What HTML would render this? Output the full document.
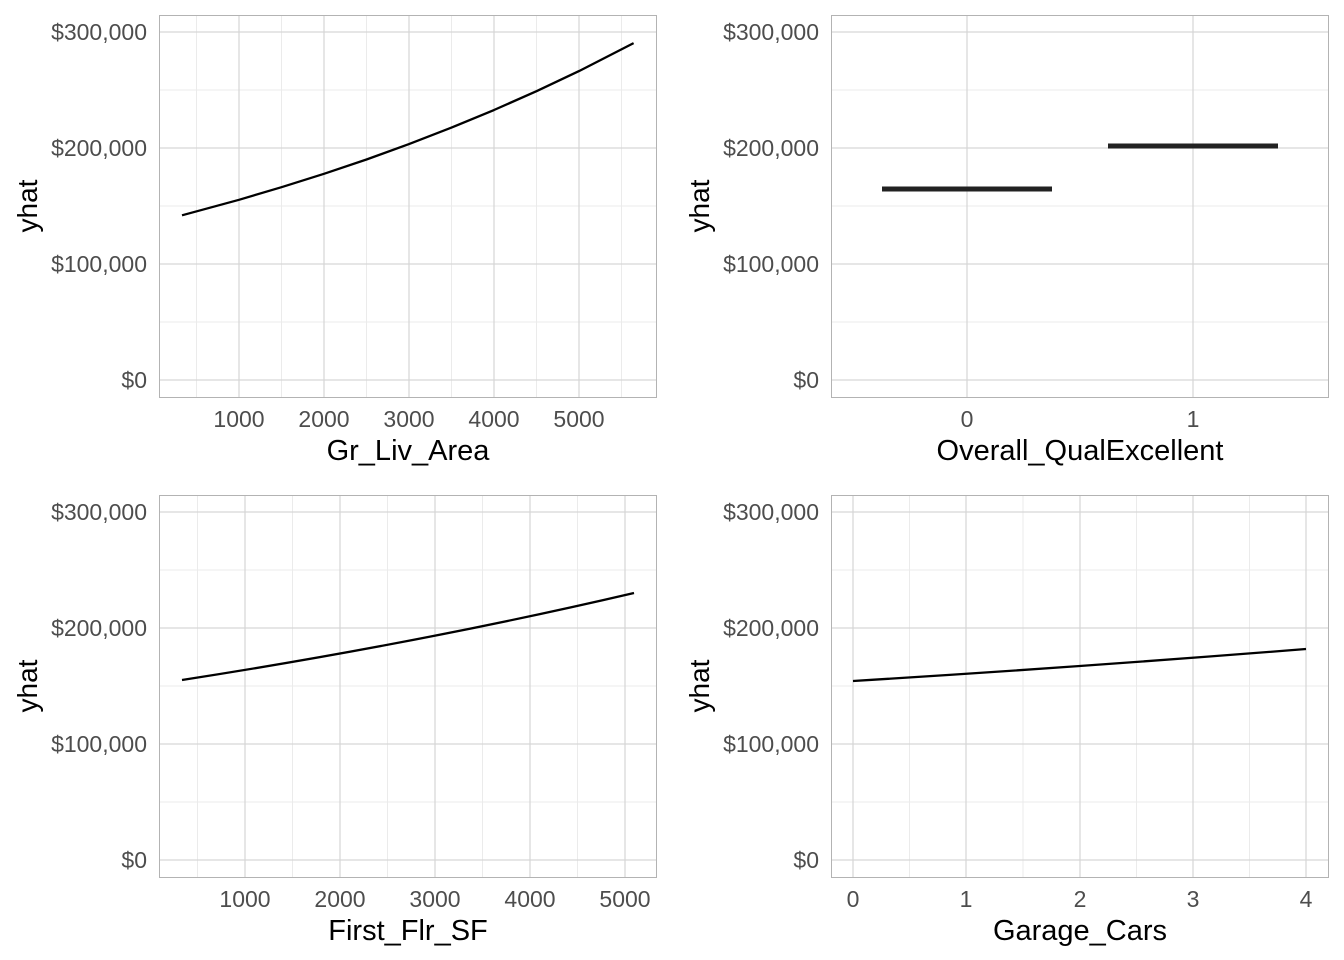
<!DOCTYPE html>
<html><head><meta charset="utf-8"><style>body{margin:0;background:#fff}svg{display:block}</style></head><body>
<svg width="1344" height="960" xmlns="http://www.w3.org/2000/svg" font-family="Liberation Sans, sans-serif">
<rect width="1344" height="960" fill="#fff"/>
<g id="p1">
<g stroke="#ebebeb" stroke-width="1">
<line x1="159" x2="656" y1="90" y2="90"/><line x1="159" x2="656" y1="206" y2="206"/><line x1="159" x2="656" y1="322" y2="322"/>
<line x1="196.5" x2="196.5" y1="15" y2="397"/><line x1="281.5" x2="281.5" y1="15" y2="397"/><line x1="366.5" x2="366.5" y1="15" y2="397"/><line x1="451.5" x2="451.5" y1="15" y2="397"/><line x1="536.5" x2="536.5" y1="15" y2="397"/><line x1="621.5" x2="621.5" y1="15" y2="397"/>
</g>
<g stroke="#d6d6d6" stroke-width="1.2">
<line x1="159" x2="656" y1="32" y2="32"/><line x1="159" x2="656" y1="148" y2="148"/><line x1="159" x2="656" y1="264" y2="264"/><line x1="159" x2="656" y1="380" y2="380"/>
<line x1="239" x2="239" y1="15" y2="397"/><line x1="324" x2="324" y1="15" y2="397"/><line x1="409" x2="409" y1="15" y2="397"/><line x1="494" x2="494" y1="15" y2="397"/><line x1="579" x2="579" y1="15" y2="397"/>
</g>
<rect x="159.5" y="15.5" width="497" height="382" fill="none" stroke="#b3b3b3"/>
<polyline points="182,215.3 239,199.8 281.5,187.2 324,173.8 366.5,159.5 409,144.1 451.5,127.6 494,110 536.5,91.2 579,71.1 633.6,43.1" fill="none" stroke="#000" stroke-width="2.3" stroke-linejoin="round"/>
<g fill="#4d4d4d" font-size="23" text-anchor="end"><text x="147" y="40">$300,000</text><text x="147" y="156">$200,000</text><text x="147" y="272">$100,000</text><text x="147" y="388">$0</text></g>
<g fill="#4d4d4d" font-size="23" text-anchor="middle"><text x="239" y="427">1000</text><text x="324" y="427">2000</text><text x="409" y="427">3000</text><text x="494" y="427">4000</text><text x="579" y="427">5000</text></g>
<text x="408" y="460" font-size="29" text-anchor="middle">Gr_Liv_Area</text>
<text transform="translate(37,206) rotate(-90)" font-size="28" text-anchor="middle">yhat</text>
</g>
<g id="p2">
<g stroke="#ebebeb"><line x1="831" x2="1328" y1="90" y2="90"/><line x1="831" x2="1328" y1="206" y2="206"/><line x1="831" x2="1328" y1="322" y2="322"/></g>
<g stroke="#d6d6d6" stroke-width="1.2"><line x1="831" x2="1328" y1="32" y2="32"/><line x1="831" x2="1328" y1="148" y2="148"/><line x1="831" x2="1328" y1="264" y2="264"/><line x1="831" x2="1328" y1="380" y2="380"/><line x1="967" x2="967" y1="15" y2="397"/><line x1="1193" x2="1193" y1="15" y2="397"/></g>
<rect x="831.5" y="15.5" width="497" height="382" fill="none" stroke="#b3b3b3"/>
<line x1="882" x2="1052" y1="189" y2="189" stroke="#222" stroke-width="5"/>
<line x1="1108" x2="1278" y1="146" y2="146" stroke="#222" stroke-width="5"/>
<g fill="#4d4d4d" font-size="23" text-anchor="end"><text x="819" y="40">$300,000</text><text x="819" y="156">$200,000</text><text x="819" y="272">$100,000</text><text x="819" y="388">$0</text></g>
<g fill="#4d4d4d" font-size="23" text-anchor="middle"><text x="967" y="427">0</text><text x="1193" y="427">1</text></g>
<text x="1080" y="460" font-size="29" text-anchor="middle">Overall_QualExcellent</text>
<text transform="translate(709,206) rotate(-90)" font-size="28" text-anchor="middle">yhat</text>
</g>
<g id="p3">
<g stroke="#ebebeb"><line x1="159" x2="656" y1="570" y2="570"/><line x1="159" x2="656" y1="686" y2="686"/><line x1="159" x2="656" y1="802" y2="802"/>
<line x1="197.5" x2="197.5" y1="495" y2="877"/><line x1="292.5" x2="292.5" y1="495" y2="877"/><line x1="387.5" x2="387.5" y1="495" y2="877"/><line x1="482.5" x2="482.5" y1="495" y2="877"/><line x1="577.5" x2="577.5" y1="495" y2="877"/></g>
<g stroke="#d6d6d6" stroke-width="1.2"><line x1="159" x2="656" y1="512" y2="512"/><line x1="159" x2="656" y1="628" y2="628"/><line x1="159" x2="656" y1="744" y2="744"/><line x1="159" x2="656" y1="860" y2="860"/>
<line x1="245" x2="245" y1="495" y2="877"/><line x1="340" x2="340" y1="495" y2="877"/><line x1="435" x2="435" y1="495" y2="877"/><line x1="530" x2="530" y1="495" y2="877"/><line x1="625" x2="625" y1="495" y2="877"/></g>
<rect x="159.5" y="495.5" width="497" height="382" fill="none" stroke="#b3b3b3"/>
<path d="M182,680 Q420,643 634,593" fill="none" stroke="#000" stroke-width="2.3"/>
<g fill="#4d4d4d" font-size="23" text-anchor="end"><text x="147" y="520">$300,000</text><text x="147" y="636">$200,000</text><text x="147" y="752">$100,000</text><text x="147" y="868">$0</text></g>
<g fill="#4d4d4d" font-size="23" text-anchor="middle"><text x="245" y="907">1000</text><text x="340" y="907">2000</text><text x="435" y="907">3000</text><text x="530" y="907">4000</text><text x="625" y="907">5000</text></g>
<text x="408" y="940" font-size="29" text-anchor="middle">First_Flr_SF</text>
<text transform="translate(37,686) rotate(-90)" font-size="28" text-anchor="middle">yhat</text>
</g>
<g id="p4">
<g stroke="#ebebeb"><line x1="831" x2="1328" y1="570" y2="570"/><line x1="831" x2="1328" y1="686" y2="686"/><line x1="831" x2="1328" y1="802" y2="802"/>
<line x1="909.5" x2="909.5" y1="495" y2="877"/><line x1="1023" x2="1023" y1="495" y2="877"/><line x1="1136.5" x2="1136.5" y1="495" y2="877"/><line x1="1249.5" x2="1249.5" y1="495" y2="877"/></g>
<g stroke="#d6d6d6" stroke-width="1.2"><line x1="831" x2="1328" y1="512" y2="512"/><line x1="831" x2="1328" y1="628" y2="628"/><line x1="831" x2="1328" y1="744" y2="744"/><line x1="831" x2="1328" y1="860" y2="860"/>
<line x1="853" x2="853" y1="495" y2="877"/><line x1="966" x2="966" y1="495" y2="877"/><line x1="1080" x2="1080" y1="495" y2="877"/><line x1="1193" x2="1193" y1="495" y2="877"/><line x1="1306" x2="1306" y1="495" y2="877"/></g>
<rect x="831.5" y="495.5" width="497" height="382" fill="none" stroke="#b3b3b3"/>
<path d="M853,681 Q1080,667 1306,649" fill="none" stroke="#000" stroke-width="2.3"/>
<g fill="#4d4d4d" font-size="23" text-anchor="end"><text x="819" y="520">$300,000</text><text x="819" y="636">$200,000</text><text x="819" y="752">$100,000</text><text x="819" y="868">$0</text></g>
<g fill="#4d4d4d" font-size="23" text-anchor="middle"><text x="853" y="907">0</text><text x="966" y="907">1</text><text x="1080" y="907">2</text><text x="1193" y="907">3</text><text x="1306" y="907">4</text></g>
<text x="1080" y="940" font-size="29" text-anchor="middle">Garage_Cars</text>
<text transform="translate(709,686) rotate(-90)" font-size="28" text-anchor="middle">yhat</text>
</g>
</svg>
</body></html>
